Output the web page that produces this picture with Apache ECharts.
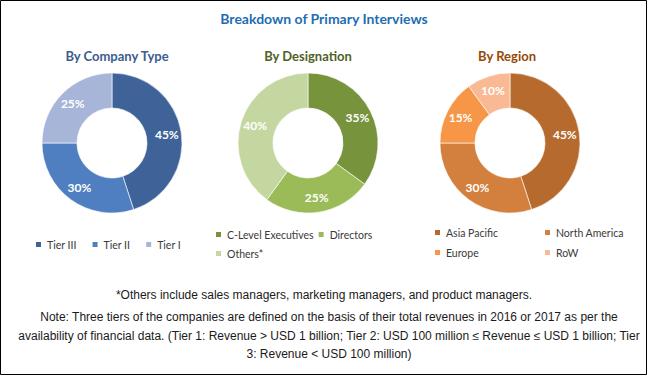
<!DOCTYPE html>
<html>
<head>
<meta charset="utf-8">
<script src="https://cdn.jsdelivr.net/npm/echarts@6/dist/echarts.min.js"></script>
<style>
  html, body { margin: 0; padding: 0; background: #ffffff; }
  #chart { width: 648px; height: 376px; }
</style>
</head>
<body>
<div id="chart"></div>
<script>
// 세 개의 도넛: 회사 유형 / 직급 / 지역
const companyTypes = ["Tier III", "Tier II", "Tier I"];
const companyShares = [45, 30, 25];

const designations = ["C-Level Executives", "Directors", "Others*"];
const designationShares = [35, 25, 40];

const regions = ["Asia Pacific", "North America", "Europe", "RoW"];
const regionShares = [45, 30, 15, 10];

const COMPANY_COLORS = ["#3f6399", "#4f7fc0", "#a7b6d8"];
const DESIGNATION_COLORS = ["#77933c", "#9bbb59", "#c4d7a0"];
const REGION_COLORS = ["#b66a2e", "#d37f3d", "#f79646", "#f8b994"];

const HEAD_FONT = 'Lato, "Open Sans", sans-serif';
const NOTE_FONT = '"Liberation Sans", Arial, sans-serif';

const footnote = "*Others include sales managers, marketing managers, and product managers.";
const noteLines = [
  "Note: Three tiers of the companies are defined on the basis of their total revenues in 2016 or 2017 as per the",
  "availability of financial data. (Tier 1: Revenue > USD 1 billion; Tier 2: USD 100 million \u2264 Revenue \u2264 USD 1 billion; Tier",
  "3: Revenue < USD 100 million)",
];

function toItems(names, values, colors) {
  return names.map((name, i) => ({ name, value: values[i], itemStyle: { color: colors[i] } }));
}

function donut(center, names, values, colors) {
  return {
    type: "pie",
    center,
    radius: [35, 70],
    startAngle: 90,
    clockwise: true,
    avoidLabelOverlap: false,
    silent: true,
    itemStyle: { borderColor: "#ffffff", borderWidth: 0.6 },
    label: {
      show: true,
      position: "inside",
      formatter: "{c}%",
      color: "#ffffff",
      fontFamily: HEAD_FONT,
      fontWeight: "bold",
      fontSize: 12,
    },
    labelLine: { show: false },
    data: toItems(names, values, colors),
  };
}

const legendText = { fontFamily: HEAD_FONT, fontSize: 10.5, color: "#3a3a3a" };

function legend(opts) {
  return {
    itemWidth: 7,
    itemHeight: 7,
    icon: "rect",
    selectedMode: false,
    textStyle: legendText,
    padding: 0,
    ...opts,
  };
}

const chart = echarts.init(document.getElementById("chart"), null, { renderer: "svg" });

chart.setOption({
  backgroundColor: "#ffffff",
  animation: false,
  title: [
    { text: "Breakdown of Primary Interviews", left: "center", top: 6,
      textStyle: { fontFamily: HEAD_FONT, fontSize: 14, fontWeight: "bold", color: "#1e6db2" } },
    { text: "By Company Type", left: 112, top: 44, textAlign: "center",
      textStyle: { fontFamily: HEAD_FONT, fontSize: 13, fontWeight: "bold", color: "#3b5d90" } },
    { text: "By Designation", left: 303, top: 44, textAlign: "center",
      textStyle: { fontFamily: HEAD_FONT, fontSize: 13, fontWeight: "bold", color: "#4f6228" } },
    { text: "By Region", left: 502, top: 44, textAlign: "center",
      textStyle: { fontFamily: HEAD_FONT, fontSize: 13, fontWeight: "bold", color: "#974806" } },
    { text: footnote, left: "center", top: 284,
      textStyle: { fontFamily: NOTE_FONT, fontSize: 12, fontWeight: "normal", color: "#1a1a1a" } },
    { text: noteLines.join("\n"), left: 324, top: 303, textAlign: "center",
      textStyle: { fontFamily: NOTE_FONT, fontSize: 12, fontWeight: "normal", color: "#1a1a1a", lineHeight: 18.5, align: "center" } },
  ],
  legend: [
    legend({ data: companyTypes, orient: "horizontal", left: 34, top: 239, itemGap: 14 }),
    legend({ data: designations.slice(0, 2), orient: "horizontal", left: 214, top: 229, itemGap: 3 }),
    legend({ data: designations.slice(2), orient: "horizontal", left: 214, top: 248 }),
    legend({ data: [regions[0], regions[2]], orient: "vertical", left: 433, top: 227, itemGap: 9 }),
    legend({ data: [regions[1], regions[3]], orient: "vertical", left: 543, top: 227, itemGap: 9 }),
  ],
  series: [
    donut([112, 143], companyTypes, companyShares, COMPANY_COLORS),
    donut([308, 143], designations, designationShares, DESIGNATION_COLORS),
    donut([510, 143], regions, regionShares, REGION_COLORS),
  ],
  graphic: [
    { type: "rect", shape: { x: 0.5, y: 0.5, width: 646, height: 374 },
      style: { fill: "none", stroke: "#000000", lineWidth: 1 }, silent: true },
  ],
});
</script>
</body>
</html>
